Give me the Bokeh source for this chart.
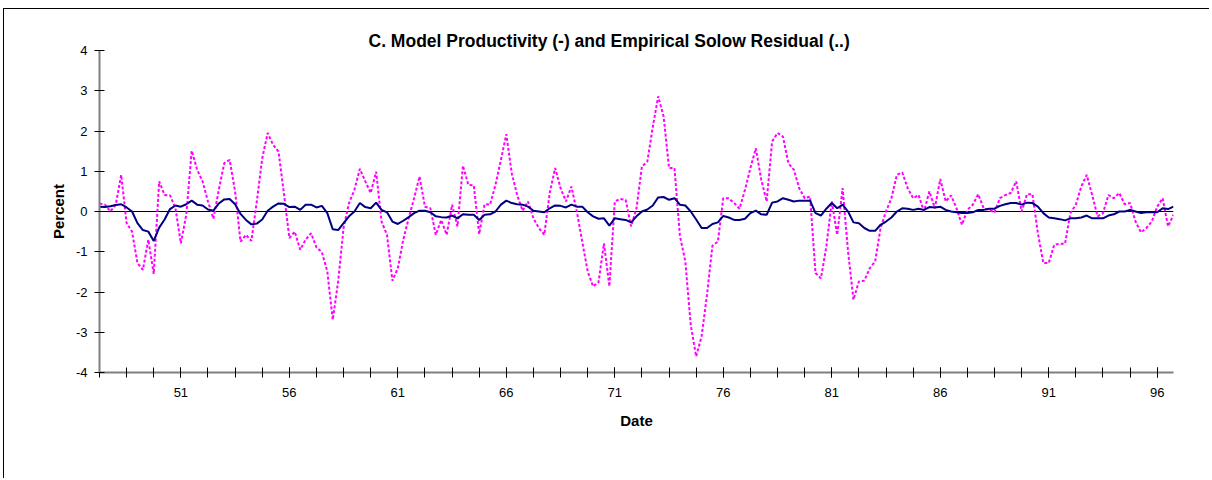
from bokeh.plotting import figure
from bokeh.models import Span, FixedTicker
from bokeh.embed import file_html
from bokeh.resources import INLINE

# ---------------- data (quarterly, first observation 1947:2) ----------------
start_year = 47.25
quarter = 0.25

# Model productivity (solid navy line)
productivity = [
    0.12, 0.11, 0.13, 0.16, 0.18, 0.10, 0.00, -0.29, -0.46, -0.50,
    -0.73, -0.40, -0.20, 0.06, 0.15, 0.12, 0.18, 0.27, 0.17, 0.15,
    0.05, 0.02, 0.20, 0.30, 0.31, 0.18, -0.06, -0.21, -0.32, -0.30,
    -0.20, 0.02, 0.12, 0.20, 0.19, 0.11, 0.12, 0.04, 0.17, 0.17,
    0.10, 0.14, -0.04, -0.44, -0.46, -0.29, -0.12, 0.00, 0.21, 0.11,
    0.08, 0.22, 0.04, -0.02, -0.25, -0.31, -0.23, -0.14, -0.04, 0.02,
    0.02, -0.02, -0.12, -0.14, -0.15, -0.10, -0.17, -0.07, -0.08, -0.08,
    -0.21, -0.08, -0.07, 0.00, 0.17, 0.27, 0.21, 0.18, 0.17, 0.12,
    0.02, 0.00, -0.02, 0.08, 0.15, 0.14, 0.10, 0.17, 0.12, 0.12,
    -0.02, -0.12, -0.18, -0.17, -0.35, -0.17, -0.19, -0.21, -0.27, -0.12,
    0.00, 0.05, 0.15, 0.35, 0.36, 0.29, 0.33, 0.17, 0.15, 0.00,
    -0.20, -0.41, -0.41, -0.31, -0.27, -0.11, -0.15, -0.21, -0.21, -0.18,
    -0.04, 0.02, -0.07, -0.08, 0.22, 0.25, 0.33, 0.29, 0.25, 0.27,
    0.27, 0.27, -0.04, -0.10, 0.07, 0.21, 0.08, 0.17, 0.00, -0.27,
    -0.29, -0.41, -0.48, -0.48, -0.33, -0.25, -0.15, 0.00, 0.08, 0.07,
    0.04, 0.07, 0.04, 0.11, 0.10, 0.12, 0.04, 0.00, -0.02, -0.04,
    -0.04, -0.02, 0.04, 0.04, 0.07, 0.07, 0.14, 0.18, 0.21, 0.21,
    0.17, 0.22, 0.21, 0.12, -0.04, -0.15, -0.17, -0.19, -0.22, -0.17,
    -0.17, -0.15, -0.10, -0.17, -0.17, -0.17, -0.10, -0.07, 0.00, 0.00,
    0.04, 0.00, -0.04, -0.02, -0.02, -0.02, 0.08, 0.06, 0.12,
]

# Empirical Solow residual (dotted magenta line)
solow_residual = [
    0.20, 0.17, 0.00, 0.17, 0.91, -0.29, -0.50, -1.28, -1.45, -0.70,
    -1.55, 0.75, 0.41, 0.40, 0.08, -0.79, -0.08, 1.51, 1.04, 0.75,
    0.25, -0.18, 0.54, 1.20, 1.28, 0.50, -0.75, -0.58, -0.73, 0.25,
    1.32, 1.95, 1.66, 1.49, 0.45, -0.66, -0.50, -0.95, -0.70, -0.54,
    -0.89, -1.01, -1.49, -2.69, -1.74, -0.40, 0.21, 0.54, 1.06, 0.75,
    0.46, 0.99, -0.25, -0.58, -1.72, -1.41, -0.70, -0.17, 0.33, 0.87,
    0.12, 0.08, -0.58, -0.21, -0.58, 0.17, -0.37, 1.14, 0.66, 0.65,
    -0.56, 0.18, 0.17, 0.66, 1.28, 1.92, 0.95, 0.41, 0.02, 0.25,
    -0.17, -0.41, -0.58, 0.46, 1.08, 0.58, 0.25, 0.62, 0.00, -0.75,
    -1.49, -1.86, -1.76, -0.79, -1.86, 0.25, 0.31, 0.29, -0.37, 0.08,
    1.12, 1.24, 2.10, 2.86, 2.36, 1.08, 1.08, -0.60, -1.24, -2.82,
    -3.60, -3.10, -2.07, -0.85, -0.75, 0.33, 0.33, 0.21, 0.07, 0.54,
    1.08, 1.57, 0.79, 0.25, 1.74, 1.95, 1.86, 1.20, 1.04, 0.58,
    0.33, 0.37, -1.53, -1.66, -0.87, 0.25, -0.58, 0.58, -0.99, -2.19,
    -1.74, -1.72, -1.41, -1.24, -0.41, 0.00, 0.33, 0.91, 0.97, 0.58,
    0.33, 0.41, 0.00, 0.50, 0.08, 0.81, 0.25, 0.40, 0.08, -0.33,
    0.04, 0.17, 0.43, 0.08, 0.04, -0.02, 0.33, 0.41, 0.46, 0.75,
    0.00, 0.43, 0.43, -0.54, -1.28, -1.28, -0.83, -0.80, -0.80, -0.04,
    0.17, 0.62, 0.91, 0.41, -0.12, -0.04, 0.41, 0.33, 0.46, 0.18,
    0.21, -0.25, -0.52, -0.41, -0.25, 0.12, 0.33, -0.37, -0.08,
]

x_tick_labels = ["51", "56", "61", "66", "71", "76", "81", "86", "91", "96"]
y_tick_labels = ["-4", "-3", "-2", "-1", "0", "1", "2", "3", "4"]

title_text = "C. Model Productivity (-) and Empirical Solow Residual (..)"
x_title = "Date"
y_title = "Percent"

# ---------------- derived ----------------
dates = [start_year + quarter * i for i in range(len(productivity))]
x_end = dates[-1]
x_ticks = [int(s) for s in x_tick_labels]
y_ticks = [int(s) for s in y_tick_labels]
minor_ticks = []
t = start_year
while t <= x_end + 1e-9:
    minor_ticks.append(t)
    t += 1.25

FONT = "Liberation Sans"

p = figure(
    width=1206, height=470,
    x_range=(start_year, x_end), y_range=(y_ticks[0], y_ticks[-1]),
    output_backend="svg", toolbar_location=None,
    min_border_left=95, min_border_right=37,
    min_border_top=41, min_border_bottom=107,
)
p.styles = {
    "margin-left": "3px", "margin-top": "8px",
    "border-left": "1px solid #000000", "border-top": "1px solid #000000",
}
p.background_fill_color = "white"
p.border_fill_color = "white"
p.outline_line_color = None
p.xgrid.visible = False
p.ygrid.visible = False

p.title.text = title_text
p.title.align = "left"
p.title.offset = 269
p.title.standoff = 0
p.title.text_font = FONT
p.title.text_font_size = "17.5px"
p.title.text_font_style = "bold"
p.title.text_color = "black"

zero = Span(location=0, dimension="width", line_color="black", line_width=1, level="underlay")
p.add_layout(zero)

p.line(dates, solow_residual, line_color="#FF00FF", line_width=2, line_dash="3 2")
p.line(dates, productivity, line_color="#000080", line_width=2)

# axes
for ax in (p.xaxis[0], p.yaxis[0]):
    ax.axis_line_color = "#808080"
    ax.axis_line_width = 2
    ax.major_tick_line_color = "black"
    ax.major_tick_in = 5
    ax.major_tick_out = 5
    ax.major_label_text_font = FONT
    ax.major_label_text_font_size = "13px"
    ax.major_label_text_color = "black"
    ax.axis_label_text_font = FONT
    ax.axis_label_text_font_size = "15px"
    ax.axis_label_text_font_style = "bold"
    ax.axis_label_text_color = "black"

p.xaxis.ticker = FixedTicker(ticks=x_ticks, minor_ticks=minor_ticks)
p.xaxis.major_label_overrides = {v: s for v, s in zip(x_ticks, x_tick_labels)}
p.xaxis.minor_tick_line_color = "black"
p.xaxis.minor_tick_in = 5
p.xaxis.minor_tick_out = 5
p.xaxis.major_label_standoff = 10
p.xaxis.axis_label = x_title
p.xaxis.axis_label_standoff = 12

p.yaxis.ticker = FixedTicker(ticks=y_ticks)
p.yaxis.major_label_overrides = {v: s for v, s in zip(y_ticks, y_tick_labels)}
p.yaxis.minor_tick_line_color = None
p.yaxis.major_label_standoff = 7
p.yaxis.axis_label = y_title
p.yaxis.axis_label_standoff = 6

open("out.html", "w").write(file_html(p, INLINE))
